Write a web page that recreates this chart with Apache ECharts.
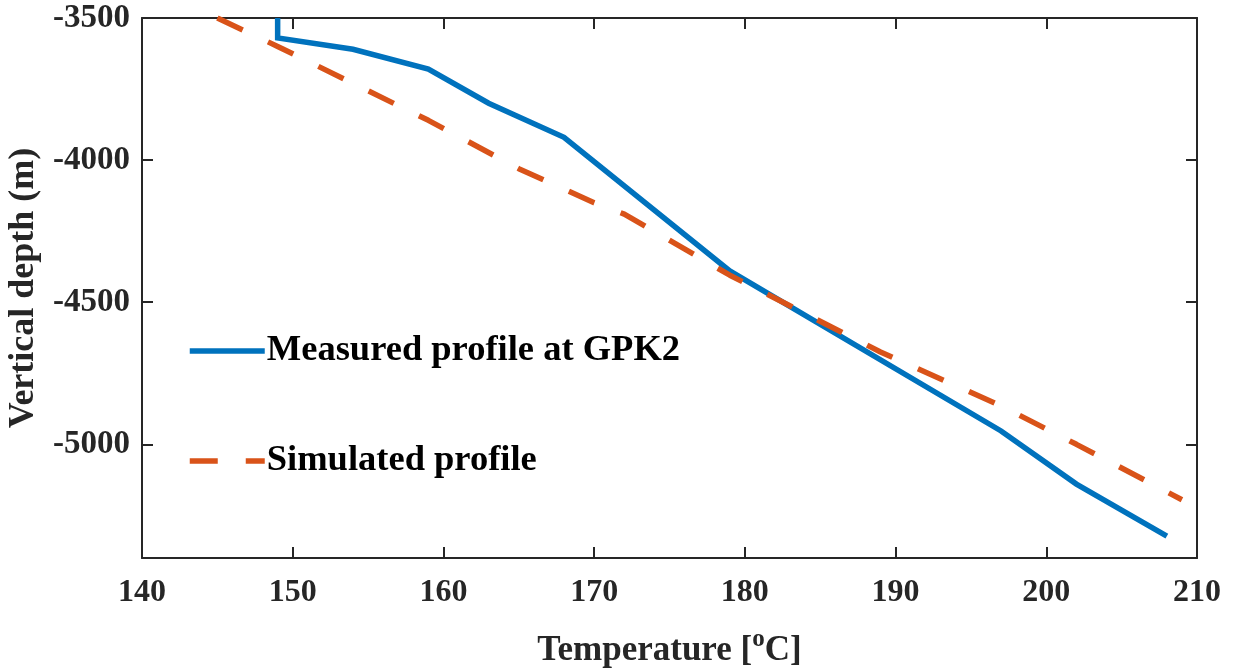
<!DOCTYPE html>
<html>
<head>
<meta charset="utf-8">
<script src="https://cdn.jsdelivr.net/npm/echarts@6/dist/echarts.min.js"></script>
<style>
  html, body { margin: 0; padding: 0; background: #ffffff; }
  #chart { width: 1237px; height: 668px; }
</style>
</head>
<body>
<div id="chart"></div>
<script>
// Measured profile at GPK2
const measuredTemp  = [149, 149, 154, 159, 163, 168, 179, 197, 202, 208];
const measuredDepth = [-3500, -3570, -3610, -3680, -3800, -3920, -4390, -4953, -5140, -5323];
// Simulated profile
const simulatedTemp  = [145, 149, 159, 165, 170, 172, 179, 189, 197, 202, 209];
const simulatedDepth = [-3500, -3600, -3860, -4030, -4150, -4190, -4405, -4675, -4865, -5000, -5195];
// Axis ticks
const xTicks = [140, 150, 160, 170, 180, 190, 200, 210];
const yTicks = [-5000, -4500, -4000, -3500];
const seriesNames = ['Measured profile at GPK2', 'Simulated profile'];

const FONT = "'Liberation Serif', 'Times New Roman', serif";
const AX = '#262626';

const pairs = (xs, ys) => xs.map((x, i) => [x, ys[i]]);

const chart = echarts.init(document.getElementById('chart'), null, { renderer: 'canvas' });

const baseX = {
  type: 'value', min: 140, max: 210, interval: 10,
  axisLine: { show: true, onZero: false, lineStyle: { color: AX, width: 2 } },
  axisTick: { show: true, inside: true, length: 11, lineStyle: { color: AX, width: 2 } },
  splitLine: { show: false }
};
const baseY = {
  type: 'value', min: -5400, max: -3500,
  axisLine: { show: true, onZero: false, lineStyle: { color: AX, width: 2 } },
  axisTick: { show: true, inside: true, length: 11, customValues: yTicks, lineStyle: { color: AX, width: 2 } },
  splitLine: { show: false }
};

chart.setOption({
  animation: false,
  backgroundColor: '#ffffff',
  grid: { left: 142, top: 18, right: 40, bottom: 110, containLabel: false, outerBoundsMode: 'none' },
  legend: {
    data: seriesNames,
    orient: 'vertical',
    left: 187, top: 331, padding: 0,
    itemWidth: 75, itemHeight: 14, itemGap: 70,
    itemStyle: { opacity: 0, color: 'transparent', borderColor: 'transparent', borderWidth: 0 },
    lineStyle: { width: 5.5, opacity: 1 },
    textStyle: { fontFamily: FONT, fontWeight: 'bold', fontSize: 36.5, color: '#000000', lineHeight: 40, padding: [0, 0, 0, -3] }
  },
  xAxis: [
    Object.assign({}, baseX, {
      position: 'bottom',
      axisLabel: { show: true, margin: 19, fontFamily: FONT, fontWeight: 'bold', fontSize: 32, color: AX,
                   customValues: xTicks, formatter: v => String(v) },
      name: 'Temperature [{sup|o}C]',
      nameLocation: 'middle', nameGap: 69,
      nameTextStyle: { fontFamily: FONT, fontWeight: 'bold', fontSize: 35, color: AX,
        rich: { sup: { fontFamily: FONT, fontWeight: 'bold', fontSize: 25, color: AX, padding: [0, 0, 22, 0] } } }
    }),
    Object.assign({}, baseX, { position: 'top', axisLabel: { show: false } })
  ],
  yAxis: [
    Object.assign({}, baseY, {
      position: 'left',
      axisLabel: { show: true, margin: 12, fontFamily: FONT, fontWeight: 'bold', fontSize: 33, color: AX,
                   customValues: yTicks, formatter: v => String(v), padding: [5, 0, 0, 0] },
      name: 'Vertical depth (m)',
      nameLocation: 'middle', nameGap: 92,
      nameTextStyle: { fontFamily: FONT, fontWeight: 'bold', fontSize: 36, color: AX }
    }),
    Object.assign({}, baseY, { position: 'right', axisLabel: { show: false } })
  ],
  series: [
    {
      name: seriesNames[0], type: 'line', xAxisIndex: 0, yAxisIndex: 0,
      data: pairs(measuredTemp, measuredDepth),
      symbol: 'none', showSymbol: false, clip: true,
      lineStyle: { color: '#0072BD', width: 5.5, cap: 'butt', join: 'miter' },
      itemStyle: { color: '#0072BD' }
    },
    {
      name: seriesNames[1], type: 'line', xAxisIndex: 0, yAxisIndex: 0,
      data: pairs(simulatedTemp, simulatedDepth),
      symbol: 'none', showSymbol: false, clip: true,
      lineStyle: { color: '#D95319', width: 5.5, type: [28, 28], cap: 'butt' },
      itemStyle: { color: '#D95319' }
    }
  ]
});
</script>
</body>
</html>
